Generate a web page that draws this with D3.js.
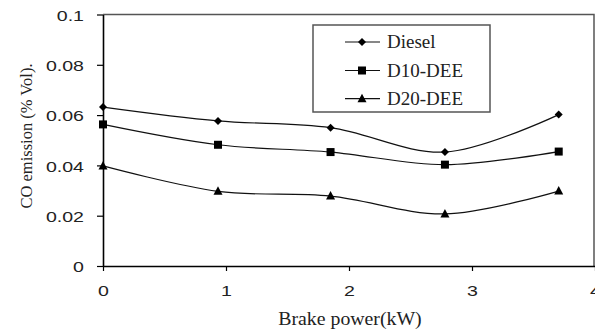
<!DOCTYPE html>
<html><head><meta charset="utf-8">
<script src="https://cdn.jsdelivr.net/npm/d3@7"></script>
<style>body{margin:0;background:#fff}svg{display:block}</style>
</head><body>
<svg id="c" width="595" height="330"></svg>
<script>
const brakePower = [0, 0.935, 1.85, 2.78, 3.705];
const diesel = [0.0632, 0.0577, 0.0550, 0.0453, 0.0602];
const d10dee = [0.0563, 0.0482, 0.0453, 0.0403, 0.0455];
const d20dee = [0.0398, 0.0297, 0.0278, 0.0207, 0.0298];
const seriesNames = ["Diesel", "D10-DEE", "D20-DEE"];
const markerTypes = ["diamond", "square", "triangle"];
const xTicks = [0, 1, 2, 3, 4];
const yTicks = [0, 0.02, 0.04, 0.06, 0.08, 0.1];
const yTickLabels = ["0", "0.02", "0.04", "0.06", "0.08", "0.1"];

const svg = d3.select("#c");
const L = 103, R = 595, T = 14.5, B = 266;
const x = d3.scaleLinear().domain([0, 4]).range([L, R]);
const y = d3.scaleLinear().domain([0, 0.1]).range([B, T]);

// frame (top/right)
svg.append("path").attr("d", `M${L},${T}H${R-1}V${B}`).attr("fill","none")
  .attr("stroke","#555").attr("stroke-width",1.5);

const tickFont = "'Liberation Sans', Arial, sans-serif";
const sx = 1.35;
// y axis
const ya = svg.append("g").attr("transform",`translate(${L},0)`)
  .call(d3.axisLeft(y).tickValues(yTicks).tickFormat((d,i)=>yTickLabels[i]).tickSize(6).tickSizeOuter(0));
ya.select(".domain").attr("stroke","#000").attr("stroke-width",1.6);
ya.selectAll(".tick line").attr("stroke","#000").attr("stroke-width",1.2);
ya.selectAll(".tick text").attr("font-family",tickFont).attr("font-size",14.5)
  .attr("fill","#222").attr("x",-19/sx).attr("dy","0.4em").attr("transform",`scale(${sx},1)`);

// x axis
const xa = svg.append("g").attr("transform",`translate(0,${B})`)
  .call(d3.axisBottom(x).tickValues(xTicks).tickFormat(d3.format("d")).tickSize(5).tickSizeOuter(0));
xa.select(".domain").attr("stroke","#000").attr("stroke-width",1.6);
xa.selectAll(".tick line").attr("stroke","#000").attr("stroke-width",1.2);
xa.selectAll(".tick text").attr("font-family",tickFont).attr("font-size",14.5)
  .attr("fill","#222").attr("y",20).attr("dy","0.71em").attr("transform",`scale(${sx},1)`);

// axis titles
svg.append("text").attr("x",350).attr("y",325).attr("text-anchor","middle")
  .attr("font-family","'Liberation Serif','Times New Roman',serif").attr("font-size",18)
  .attr("fill","#222").attr("transform","translate(350,0) scale(1.1,1) translate(-350,0)").text("Brake power(kW)");
svg.append("text").attr("transform","translate(32,136) rotate(-90)").attr("text-anchor","middle")
  .attr("font-family","'Liberation Serif','Times New Roman',serif").attr("font-size",16.5)
  .attr("fill","#222").text("CO emission (% Vol).");

const sets = [diesel, d10dee, d20dee];
const line = d3.line().x(d=>x(d[0])).y(d=>y(d[1])).curve(d3.curveCatmullRom.alpha(0.5));
function marker(g, type, cx, cy){
  if(type==="diamond") g.append("path").attr("d",`M${cx},${cy-4}L${cx+4},${cy}L${cx},${cy+4}L${cx-4},${cy}Z`).attr("fill","#000");
  else if(type==="square") g.append("rect").attr("x",cx-4).attr("y",cy-4).attr("width",8).attr("height",8).attr("fill","#000");
  else g.append("path").attr("d",`M${cx},${cy-5}L${cx+4.5},${cy+3.5}L${cx-4.5},${cy+3.5}Z`).attr("fill","#000");
}
sets.forEach((vals,i)=>{
  const pts = brakePower.map((b,j)=>[b, vals[j]]);
  svg.append("path").attr("d", line(pts)).attr("fill","none").attr("stroke","#111").attr("stroke-width",1.2);
  const g = svg.append("g");
  pts.forEach(p=>marker(g, markerTypes[i], x(p[0]), y(p[1])));
});

// legend
const lg = svg.append("g");
lg.append("rect").attr("x",313).attr("y",25).attr("width",177).attr("height",87)
  .attr("fill","#fff").attr("stroke","#555").attr("stroke-width",1.5);
const legY = [42, 70.5, 98.7];
seriesNames.forEach((n,i)=>{
  lg.append("line").attr("x1",345).attr("x2",380).attr("y1",legY[i]).attr("y2",legY[i]).attr("stroke","#111").attr("stroke-width",1.2);
  marker(lg, markerTypes[i], 362, legY[i]);
  lg.append("text").attr("x",387).attr("y",legY[i]+6.3)
    .attr("font-family","'Liberation Serif','Times New Roman',serif").attr("font-size",19)
    .attr("fill","#222").text(n);
});
</script>
</body></html>
